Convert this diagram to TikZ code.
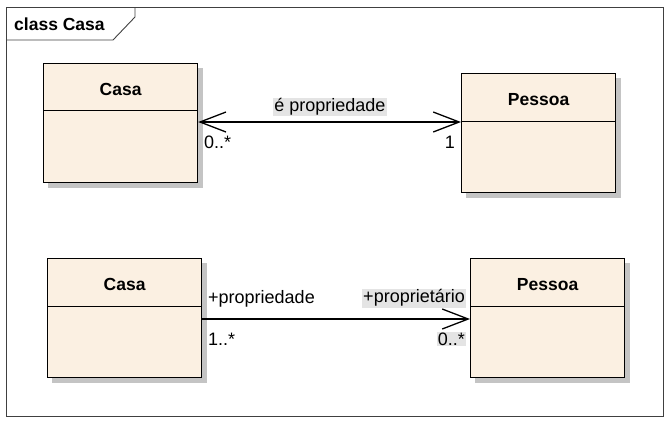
\documentclass[tikz,border=0pt]{standalone}
\usepackage{fontspec}
\setmainfont{Liberation Sans}
\usetikzlibrary{arrows.meta,calc,backgrounds}
\definecolor{boxfill}{HTML}{FBF0E2}
\definecolor{shadowgray}{HTML}{C4C4C4}
\definecolor{labelbg}{HTML}{E4E4E4}
\tikzset{
  classbox/.style={draw=black, line width=1.2pt, fill=boxfill, anchor=north west,
    minimum width=154pt, minimum height=119pt, inner sep=0pt},
  boxshadow/.style={fill=shadowgray},
  classname/.style={font=\fontsize{17.5}{20}\selectfont\bfseries, inner sep=0pt},
  lbl/.style={font=\fontsize{18}{21}\selectfont, inner sep=1pt},
  lblbg/.style={lbl, fill=labelbg},
  assoc/.style={draw=black, line width=1.3pt},
  barb/.tip={Straight Barb[length=26pt, width=20pt, line width=1.3pt]},
}
\begin{document}
\begin{tikzpicture}[x=1pt,y=-1pt]
\useasboundingbox (0,0) rectangle (669,421);
% frame
\draw[line width=0.9pt, draw=black!75] (6,7) rectangle (663,416);
\draw[line width=0.9pt, draw=black!75] (6,40) -- (113,40) -- (135,17) -- (135,7);
\node[classname, anchor=west] (title) at (14,24) {class Casa};
% boxes
\node[classbox] (a) at (43,63) {};
\node[classbox] (b) at (461,73) {};
\node[classbox] (c) at (47,258) {};
\node[classbox] (d) at (470,258) {};
\begin{scope}[on background layer]
\foreach \n in {a,b,c,d}
  \fill[boxshadow] ($(\n.north west)+(5,5)$) rectangle ($(\n.south east)+(5,5)$);
\end{scope}
% dividers and names
\draw[line width=1pt] (a.west |- 0,110) -- (a.east |- 0,110);
\draw[line width=1pt] (b.west |- 0,121) -- (b.east |- 0,121);
\draw[line width=1pt] (c.west |- 0,306) -- (c.east |- 0,306);
\draw[line width=1pt] (d.west |- 0,306) -- (d.east |- 0,306);
\node[classname] (an) at ($(a.north)!0.5!(a.north |- 0,110)+(0,2.5)$) {Casa};
\node[classname] (bn) at ($(b.north)!0.5!(b.north |- 0,121)+(0,2.5)$) {Pessoa};
\node[classname] (cn) at ($(c.north)!0.5!(c.north |- 0,306)+(0,2.5)$) {Casa};
\node[classname] (dn) at ($(d.north)!0.5!(d.north |- 0,306)+(0,2.5)$) {Pessoa};
% associations
\coordinate (a1) at (a.east |- 0,122);
\coordinate (b1) at (b.west |- 0,122);
\draw[assoc, barb-barb] (a1) -- (b1);
\coordinate (c1) at (c.east |- 0,319);
\coordinate (d1) at (d.west |- 0,319);
\draw[assoc, -barb] (c1) -- (d1);
% labels
\node[lblbg] (l1) at (330,107) {é propriedade};
\node[lbl, anchor=west] (l2) at (203,142) {0..*};
\node[lbl, anchor=east] (l3) at (456,142) {1};
\node[lbl, anchor=west] (l4) at (207,299) {+propriedade};
\node[lblbg, anchor=east] (l5) at (466,298) {+proprietário};
\node[lbl, anchor=west] (l6) at (207,339) {1..*};
\node[lblbg, anchor=east] (l7) at (466,339) {0..*};
\end{tikzpicture}
\end{document}
